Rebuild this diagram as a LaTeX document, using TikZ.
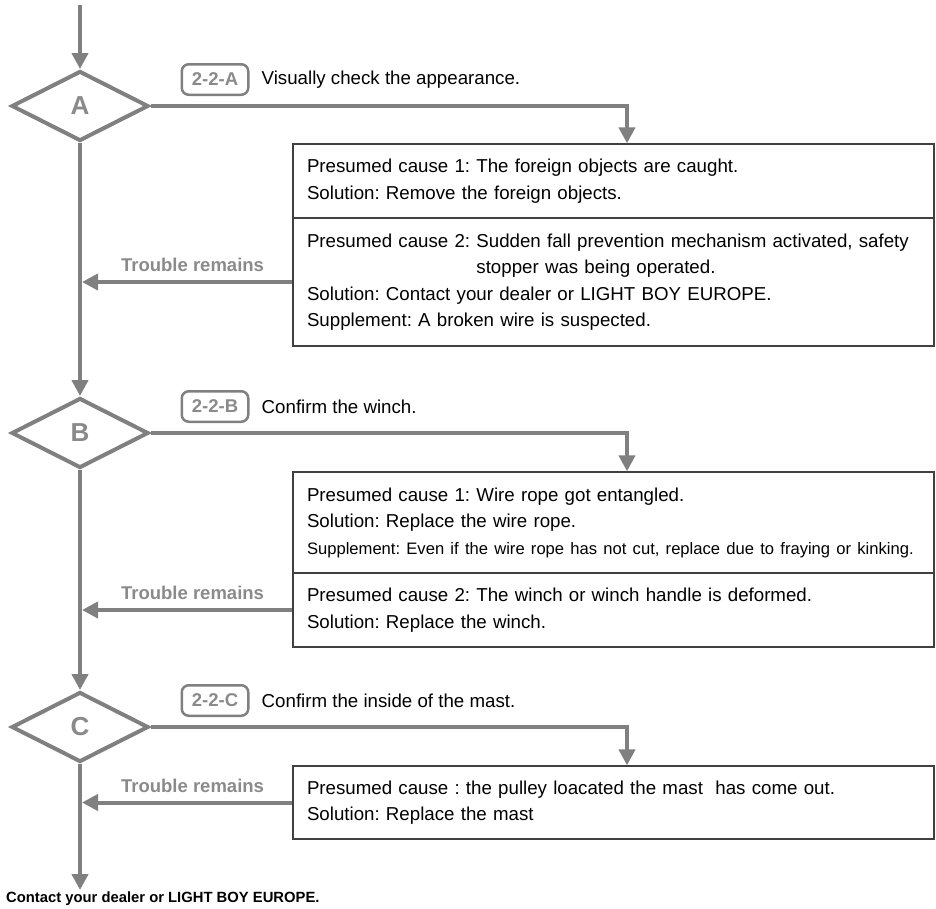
\documentclass[tikz,border=0pt]{standalone}
\usepackage{fontspec}
\setmainfont{Liberation Sans}
\usetikzlibrary{arrows.meta,positioning,shapes.geometric}
\definecolor{linegray}{RGB}{128,128,128}
\definecolor{labelgray}{RGB}{138,138,138}
\definecolor{boxline}{RGB}{64,64,64}
\tikzset{
  diam/.style  ={draw=linegray, line width=4pt, diamond, minimum width=137pt, minimum height=70pt, inner sep=0pt, fill=white, text=labelgray, font=\fontsize{26}{26}\selectfont\bfseries},
  tag/.style   ={draw=linegray, line width=2.5pt, rounded corners=7pt, minimum width=66.5pt, minimum height=30.5pt, inner sep=0pt, text=labelgray, font=\fontsize{18.5}{20}\selectfont\bfseries},
  desc/.style  ={inner sep=0pt, font=\fontsize{18.7}{20}\selectfont},
  cause/.style ={draw=boxline, line width=1.3pt, minimum width=640pt, text width=613pt, inner xsep=14pt, inner ysep=0pt, align=left, font=\fontsize{18.7}{26.5}\selectfont},
  flow/.style  ={draw=linegray, line width=4pt, -{Triangle[length=16pt,width=16pt]}},
  lbl/.style   ={text=labelgray, font=\fontsize{18.5}{20}\selectfont\bfseries, inner sep=0pt},
  endtxt/.style={inner sep=0pt, font=\fontsize{14.8}{16}\selectfont\bfseries}
}
\begin{document}
\frenchspacing
\begin{tikzpicture}[x=1pt, y=-1pt]
  \useasboundingbox (0,0) rectangle (936,908);
  \coordinate (top) at (80,5);
  \node[diam] (dA) at (80,106) {A};
  \node[diam] (dB) at (80,433) {B};
  \node[diam] (dC) at (80,727) {C};
  \coordinate (endpt) at (80,890);
  \node[endtxt, anchor=west] (fin) at (6,899) {Contact your dealer or LIGHT BOY EUROPE.};
  \node[tag, above right=10pt and 30pt of dA.east] (tA) {2-2-A};
  \node[desc, right=12pt of tA] (vA) {Visually check the appearance.};
  \node[tag, above right=10pt and 30pt of dB.east] (tB) {2-2-B};
  \node[desc, right=12pt of tB] (vB) {Confirm the winch.};
  \node[tag, above right=10pt and 30pt of dC.east] (tC) {2-2-C};
  \node[desc, right=12pt of tC] (vC) {Confirm the inside of the mast.};
  \node[cause, minimum height=74pt] (a1) at (613.5,181) {Presumed cause 1: The foreign objects are caught.\\Solution: Remove the foreign objects.};
  \node[cause, minimum height=128pt] (a2) at (613.5,282) {Presumed cause 2: Sudden fall prevention mechanism activated, safety\\\phantom{Presumed cause 2:\ }stopper was being operated.\\Solution: Contact your dealer or LIGHT BOY EUROPE.\\Supplement: A broken wire is suspected.};
  \node[cause, minimum height=101pt] (b1) at (613.5,522.5) {Presumed cause 1: Wire rope got entangled.\\Solution: Replace the wire rope.\\{\fontsize{16.6}{26.5}\selectfont Supplement: Even if the wire rope has not cut, replace due to fraying or kinking.}};
  \node[cause, minimum height=74pt] (b2) at (613.5,610) {Presumed cause 2: The winch or winch handle is deformed.\\Solution: Replace the winch.};
  \node[cause, minimum height=73pt] (c1) at (613.5,802.5) {Presumed cause : the pulley loacated the mast\ \ has come out.\\Solution: Replace the mast};
  \draw[flow] (top) -- (dA);
  \draw[flow] (dA) -- (dB);
  \draw[flow] (dB) -- (dC);
  \draw[flow] (dC) -- (endpt);
  \draw[flow] (dA.east) -| ([xshift=13.5pt]a1.north);
  \draw[flow] (dB.east) -| ([xshift=13.5pt]b1.north);
  \draw[flow] (dC.east) -| ([xshift=13.5pt]c1.north);
  \draw[flow, shorten >=2pt] (a2.west) -- node[lbl, above=8pt, pos=0.47]{Trouble remains} (a2.west -| dA.south);
  \draw[flow, shorten >=2pt] (b2.west) -- node[lbl, above=8pt, pos=0.47]{Trouble remains} (b2.west -| dB.south);
  \draw[flow, shorten >=2pt] (c1.west) -- node[lbl, above=8pt, pos=0.47]{Trouble remains} (c1.west -| dC.south);
\end{tikzpicture}
\end{document}
